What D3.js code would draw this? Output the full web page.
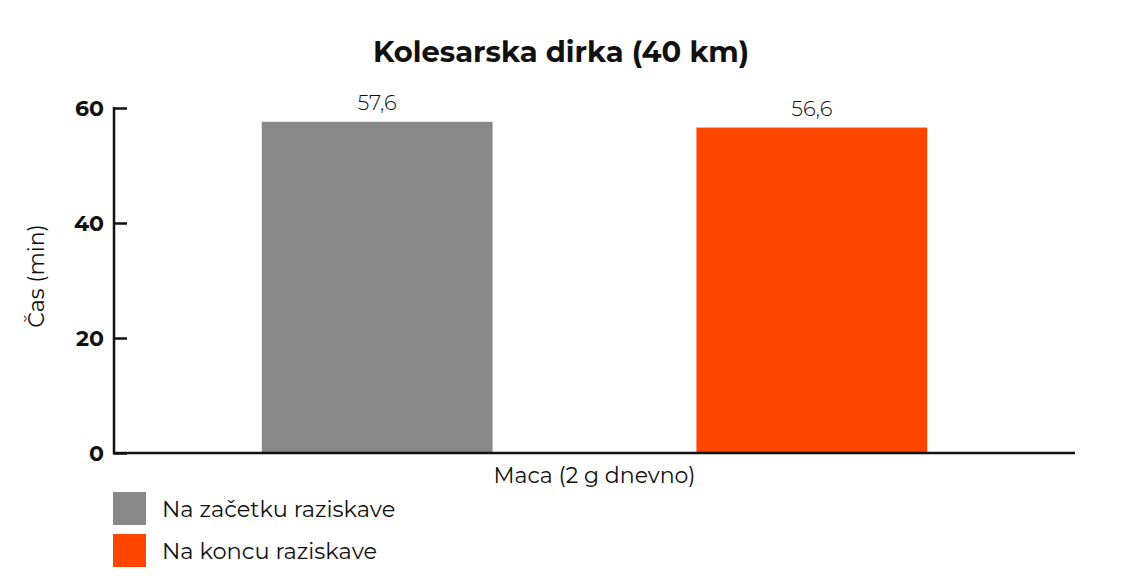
<!DOCTYPE html>
<html>
<head>
<meta charset="utf-8">
<script src="https://cdn.jsdelivr.net/npm/d3@7"></script>
<style>
  body { margin: 0; background: #fff; }
  svg text { font-family: Montserrat, "Open Sans", "Noto Sans", sans-serif; fill: #111; }
  .title { font-size: 29px; font-weight: 700; }
  .tick text { font-size: 22px; font-weight: 700; }
  .val { font-size: 21px; font-weight: 300; }
  .lbl { font-size: 22px; font-weight: 400; }
  .legend { font-size: 22.5px; font-weight: 400; }
</style>
</head>
<body>
<div id="chart"></div>
<script>
// data
var series = ["Na začetku raziskave", "Na koncu raziskave"];
var values = [57.6, 56.6];
var colors = ["#888888", "#FF4500"];
var category = "Maca (2 g dnevno)";
var yTicks = [0, 20, 40, 60];

var W = 1124, H = 588;
var margin = {top: 108, right: 49, bottom: 135, left: 114},
    width = W - margin.left - margin.right,
    height = H - margin.top - margin.bottom;

var svg = d3.select("#chart").append("svg")
    .attr("width", W)
    .attr("height", H);

var g = svg.append("g")
    .attr("transform", `translate(${margin.left},${margin.top})`);

// title
svg.append("text")
    .attr("class", "title")
    .attr("x", 561)
    .attr("y", 62)
    .attr("text-anchor", "middle")
    .text("Kolesarska dirka (40 km)");

// scales
var yscale = d3.scaleLinear().domain([0, 60]).range([height, 0]);
var xscale = d3.scaleBand().domain(series).range([0, width]).paddingInner(0.469).paddingOuter(0.34);

// bars
g.selectAll("rect.bar")
    .data(series)
    .join("rect")
    .attr("class", "bar")
    .attr("x", d => xscale(d))
    .attr("width", xscale.bandwidth())
    .attr("y", (d, i) => yscale(values[i]))
    .attr("height", (d, i) => height - yscale(values[i]))
    .attr("fill", (d, i) => colors[i]);

// value labels
g.selectAll("text.val")
    .data(series)
    .join("text")
    .attr("class", "val")
    .attr("x", d => xscale(d) + xscale.bandwidth() / 2)
    .attr("y", (d, i) => yscale(values[i]) - 12)
    .attr("text-anchor", "middle")
    .text((d, i) => d3.format(".1f")(values[i]).replace(".", ","));

// y axis, ticks pointing inward
var yAxis = d3.axisRight(yscale).tickValues(yTicks).tickSize(13);
var ya = g.append("g").call(yAxis);
ya.select(".domain").remove();
ya.selectAll(".tick line").attr("stroke", "#111").attr("stroke-width", 2.5);
ya.selectAll(".tick text").attr("text-anchor", "end").attr("x", -10).attr("dy", "0.36em");
g.append("line")
    .attr("x1", 0).attr("x2", 0)
    .attr("y1", yscale(60) - 1).attr("y2", height + 1.2)
    .attr("stroke", "#111").attr("stroke-width", 2.5);

// x axis line
g.append("line")
    .attr("x1", -1).attr("x2", width)
    .attr("y1", height).attr("y2", height)
    .attr("stroke", "#111").attr("stroke-width", 2.5);

// x label
g.append("text")
    .attr("class", "lbl")
    .attr("x", width / 2)
    .attr("y", height + 30)
    .attr("text-anchor", "middle")
    .text(category);

// y label
svg.append("text")
    .attr("class", "lbl")
    .attr("transform", "translate(44,276) rotate(-90)")
    .attr("text-anchor", "middle")
    .text("Čas (min)");

// legend
var leg = svg.append("g").attr("transform", "translate(113,492)");
var items = leg.selectAll("g").data(series).join("g")
    .attr("transform", (d, i) => `translate(0,${i * 42})`);
items.append("rect")
    .attr("width", 33).attr("height", 33)
    .attr("fill", (d, i) => colors[i]);
items.append("text")
    .attr("class", "legend")
    .attr("x", 49)
    .attr("y", 17)
    .attr("dy", "0.35em")
    .text(d => d);
</script>
</body>
</html>
